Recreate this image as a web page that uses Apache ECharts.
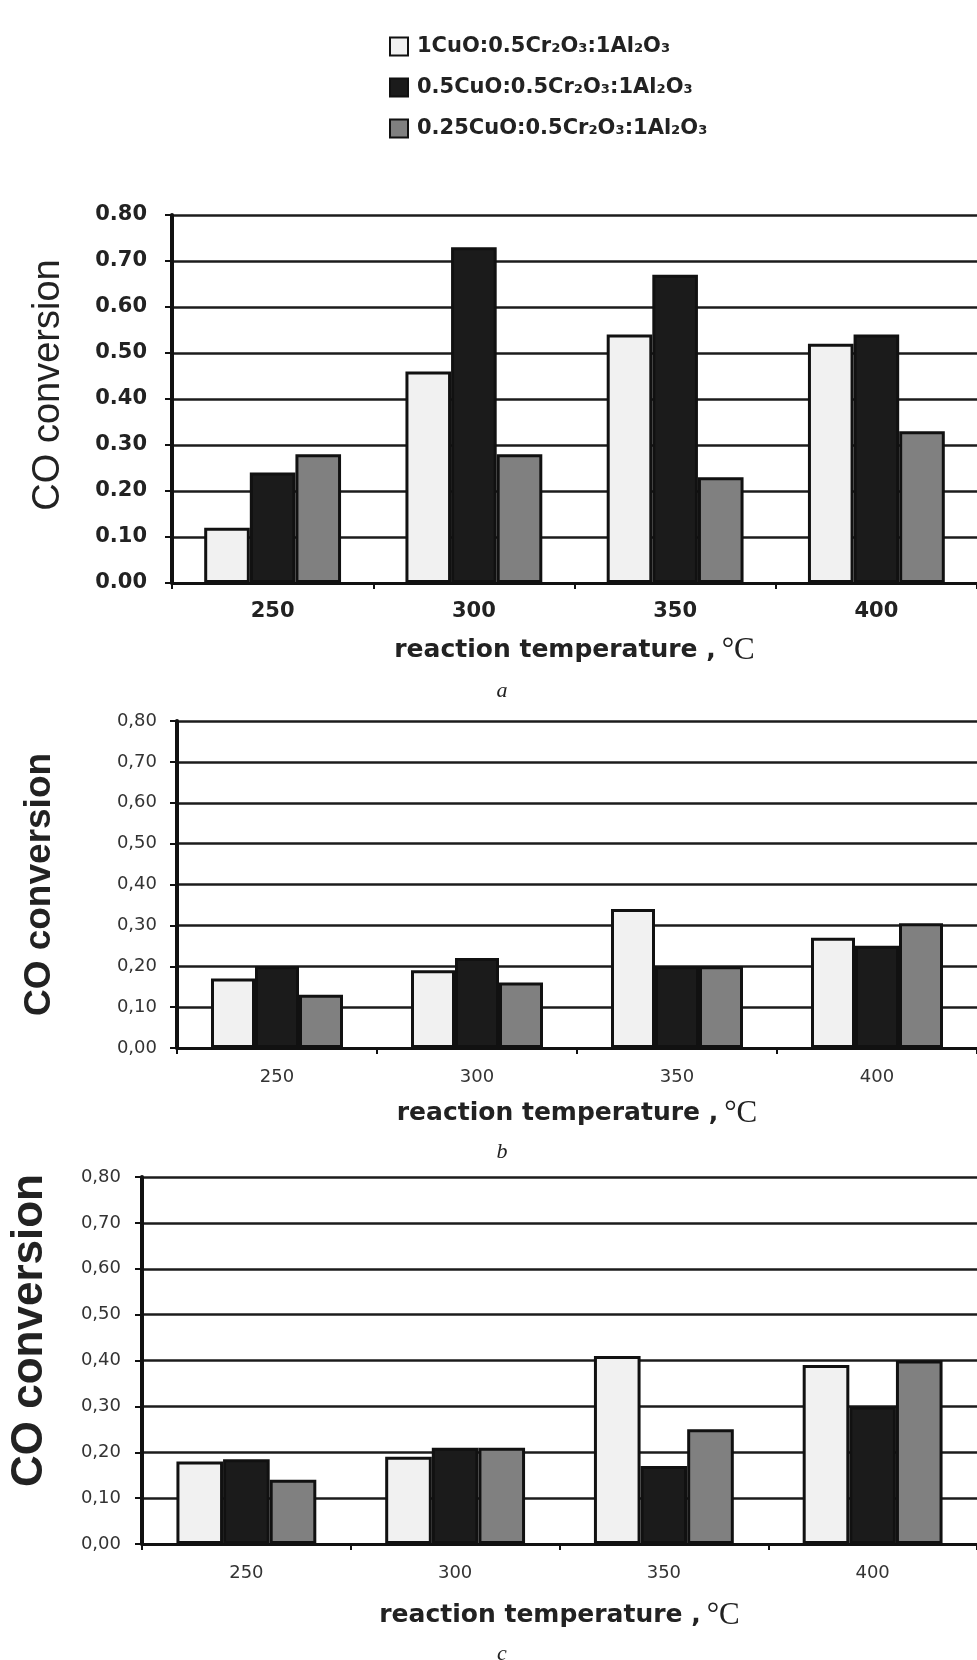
<!DOCTYPE html>
<html><head><meta charset="utf-8">
<script src="https://cdn.jsdelivr.net/npm/echarts@6/dist/echarts.min.js"></script>
<style>html,body{margin:0;padding:0;background:#fff}#c{width:977px;height:1660px}</style>
</head><body><div id="c"></div>
<script>
// ---- data ----
var seriesNames = ['1CuO:0.5Cr₂O₃:1Al₂O₃', '0.5CuO:0.5Cr₂O₃:1Al₂O₃', '0.25CuO:0.5Cr₂O₃:1Al₂O₃'];
var categories = ['250', '300', '350', '400'];
var yTicks = [0, 0.1, 0.2, 0.3, 0.4, 0.5, 0.6, 0.7, 0.8];
// panel a
var a1 = [0.12, 0.46, 0.54, 0.52];
var a2 = [0.24, 0.73, 0.67, 0.54];
var a3 = [0.28, 0.28, 0.23, 0.33];
// panel b
var b1 = [0.17, 0.19, 0.34, 0.27];
var b2 = [0.20, 0.22, 0.20, 0.25];
var b3 = [0.13, 0.16, 0.20, 0.305];
// panel c
var c1 = [0.18, 0.19, 0.41, 0.39];
var c2 = [0.185, 0.21, 0.17, 0.30];
var c3 = [0.14, 0.21, 0.25, 0.40];
var panelLetters = ['a', 'b', 'c'];
var yAxisName = 'CO conversion';
var xAxisName = 'reaction temperature ,';
var unit = '°C';

// ---- styles ----
var fills = ['#f1f1f1', '#1b1b1b', '#808080'];
var chart = echarts.init(document.getElementById('c'));

var grids = [
  {left: 172, top: 215, width: 808, height: 368},
  {left: 177, top: 721, width: 804, height: 327},
  {left: 138, top: 1177, width: 852, height: 367}
];
var yFont = [
  {fontFamily: 'DejaVu Sans', fontWeight: 'bold', fontSize: 21, color: '#222', margin: 25},
  {fontFamily: 'DejaVu Sans', fontWeight: 'normal', fontSize: 18, color: '#333', margin: 20},
  {fontFamily: 'DejaVu Sans', fontWeight: 'normal', fontSize: 18, color: '#333', margin: 21}
];
var xFont = [
  {fontFamily: 'DejaVu Sans', fontWeight: 'bold', fontSize: 21, color: '#222', margin: 18},
  {fontFamily: 'DejaVu Sans', fontWeight: 'normal', fontSize: 18, color: '#333', margin: 20},
  {fontFamily: 'DejaVu Sans', fontWeight: 'normal', fontSize: 18, color: '#333', margin: 20}
];
var yNameCfg = [
  {size: 38, weight: 'normal', gap: 104, shift: 28},
  {size: 37, weight: 'bold', gap: 119, shift: 0},
  {size: 44, weight: 'bold', gap: 90, shift: 60}
];
var xNameGap = [52, 50, 56];
var fmt = [
  function (v) { return v.toFixed(2); },
  function (v) { return v.toFixed(2).replace('.', ','); },
  function (v) { return v.toFixed(2).replace('.', ','); }
];
var data = [[a1, a2, a3], [b1, b2, b3], [c1, c2, c3]];
var gapPct = ['32%', '34%', '33%'];

var xAxes = [], yAxes = [], series = [];
for (var i = 0; i < 3; i++) {
  xAxes.push({
    type: 'category', gridIndex: i, data: categories,
    axisLine: {lineStyle: {color: '#111', width: 3}},
    axisTick: {show: true, length: 6, lineStyle: {color: '#111', width: 2}},
    axisLabel: xFont[i],
    name: '{t|' + xAxisName + '}{u|' + unit + '}',
    nameLocation: 'middle', nameGap: xNameGap[i],
    nameTextStyle: {
      rich: {
        t: {fontFamily: 'DejaVu Sans', fontWeight: 'bold', fontSize: 25, color: '#222'},
        u: {fontFamily: 'Liberation Serif', fontSize: 31, color: '#222', padding: [0, 0, 0, 6]}
      }
    }
  });
  yAxes.push({
    type: 'value', gridIndex: i, min: 0, max: 0.8, interval: 0.1,
    axisLine: {show: true, lineStyle: {color: '#111', width: 4}},
    axisTick: {show: true, length: 7, lineStyle: {color: '#111', width: 2}},
    axisLabel: Object.assign({formatter: fmt[i]}, yFont[i]),
    splitLine: {show: true, lineStyle: {color: '#1c1c1c', width: 2.5}},
    name: yAxisName, nameLocation: 'middle', nameRotate: 90, nameGap: yNameCfg[i].gap,
    nameTextStyle: {fontFamily: 'Liberation Sans', fontSize: yNameCfg[i].size, fontWeight: yNameCfg[i].weight, color: '#222',
      padding: [0, 0, 0, yNameCfg[i].shift]}
  });
  for (var s = 0; s < 3; s++) {
    series.push({
      type: 'bar', name: seriesNames[s], xAxisIndex: i, yAxisIndex: i,
      data: data[i][s], barGap: '0%', barCategoryGap: gapPct[i],
      itemStyle: {color: fills[s], borderColor: '#111', borderWidth: 3},
      emphasis: {disabled: true}, animation: false
    });
  }
}

var titles = [
  {text: panelLetters[0], left: 497, top: 675},
  {text: panelLetters[1], left: 497, top: 1136},
  {text: panelLetters[2], left: 497, top: 1638}
].map(function (t) {
  t.textAlign = 'center';
  t.textStyle = {fontFamily: 'Liberation Serif', fontStyle: 'italic', fontWeight: 'normal', fontSize: 22, color: '#222'};
  return t;
});

chart.setOption({
  backgroundColor: '#ffffff',
  animation: false,
  title: titles,
  legend: {
    orient: 'vertical', left: 384, top: 31,
    itemWidth: 18, itemHeight: 18, itemGap: 20,
    icon: 'rect',
    data: seriesNames,
    textStyle: {fontFamily: 'DejaVu Sans', fontWeight: 'bold', fontSize: 21, lineHeight: 20, color: '#222', padding: [0, 0, 0, 4]}
  },
  grid: grids,
  xAxis: xAxes,
  yAxis: yAxes,
  series: series
});
</script></body></html>
